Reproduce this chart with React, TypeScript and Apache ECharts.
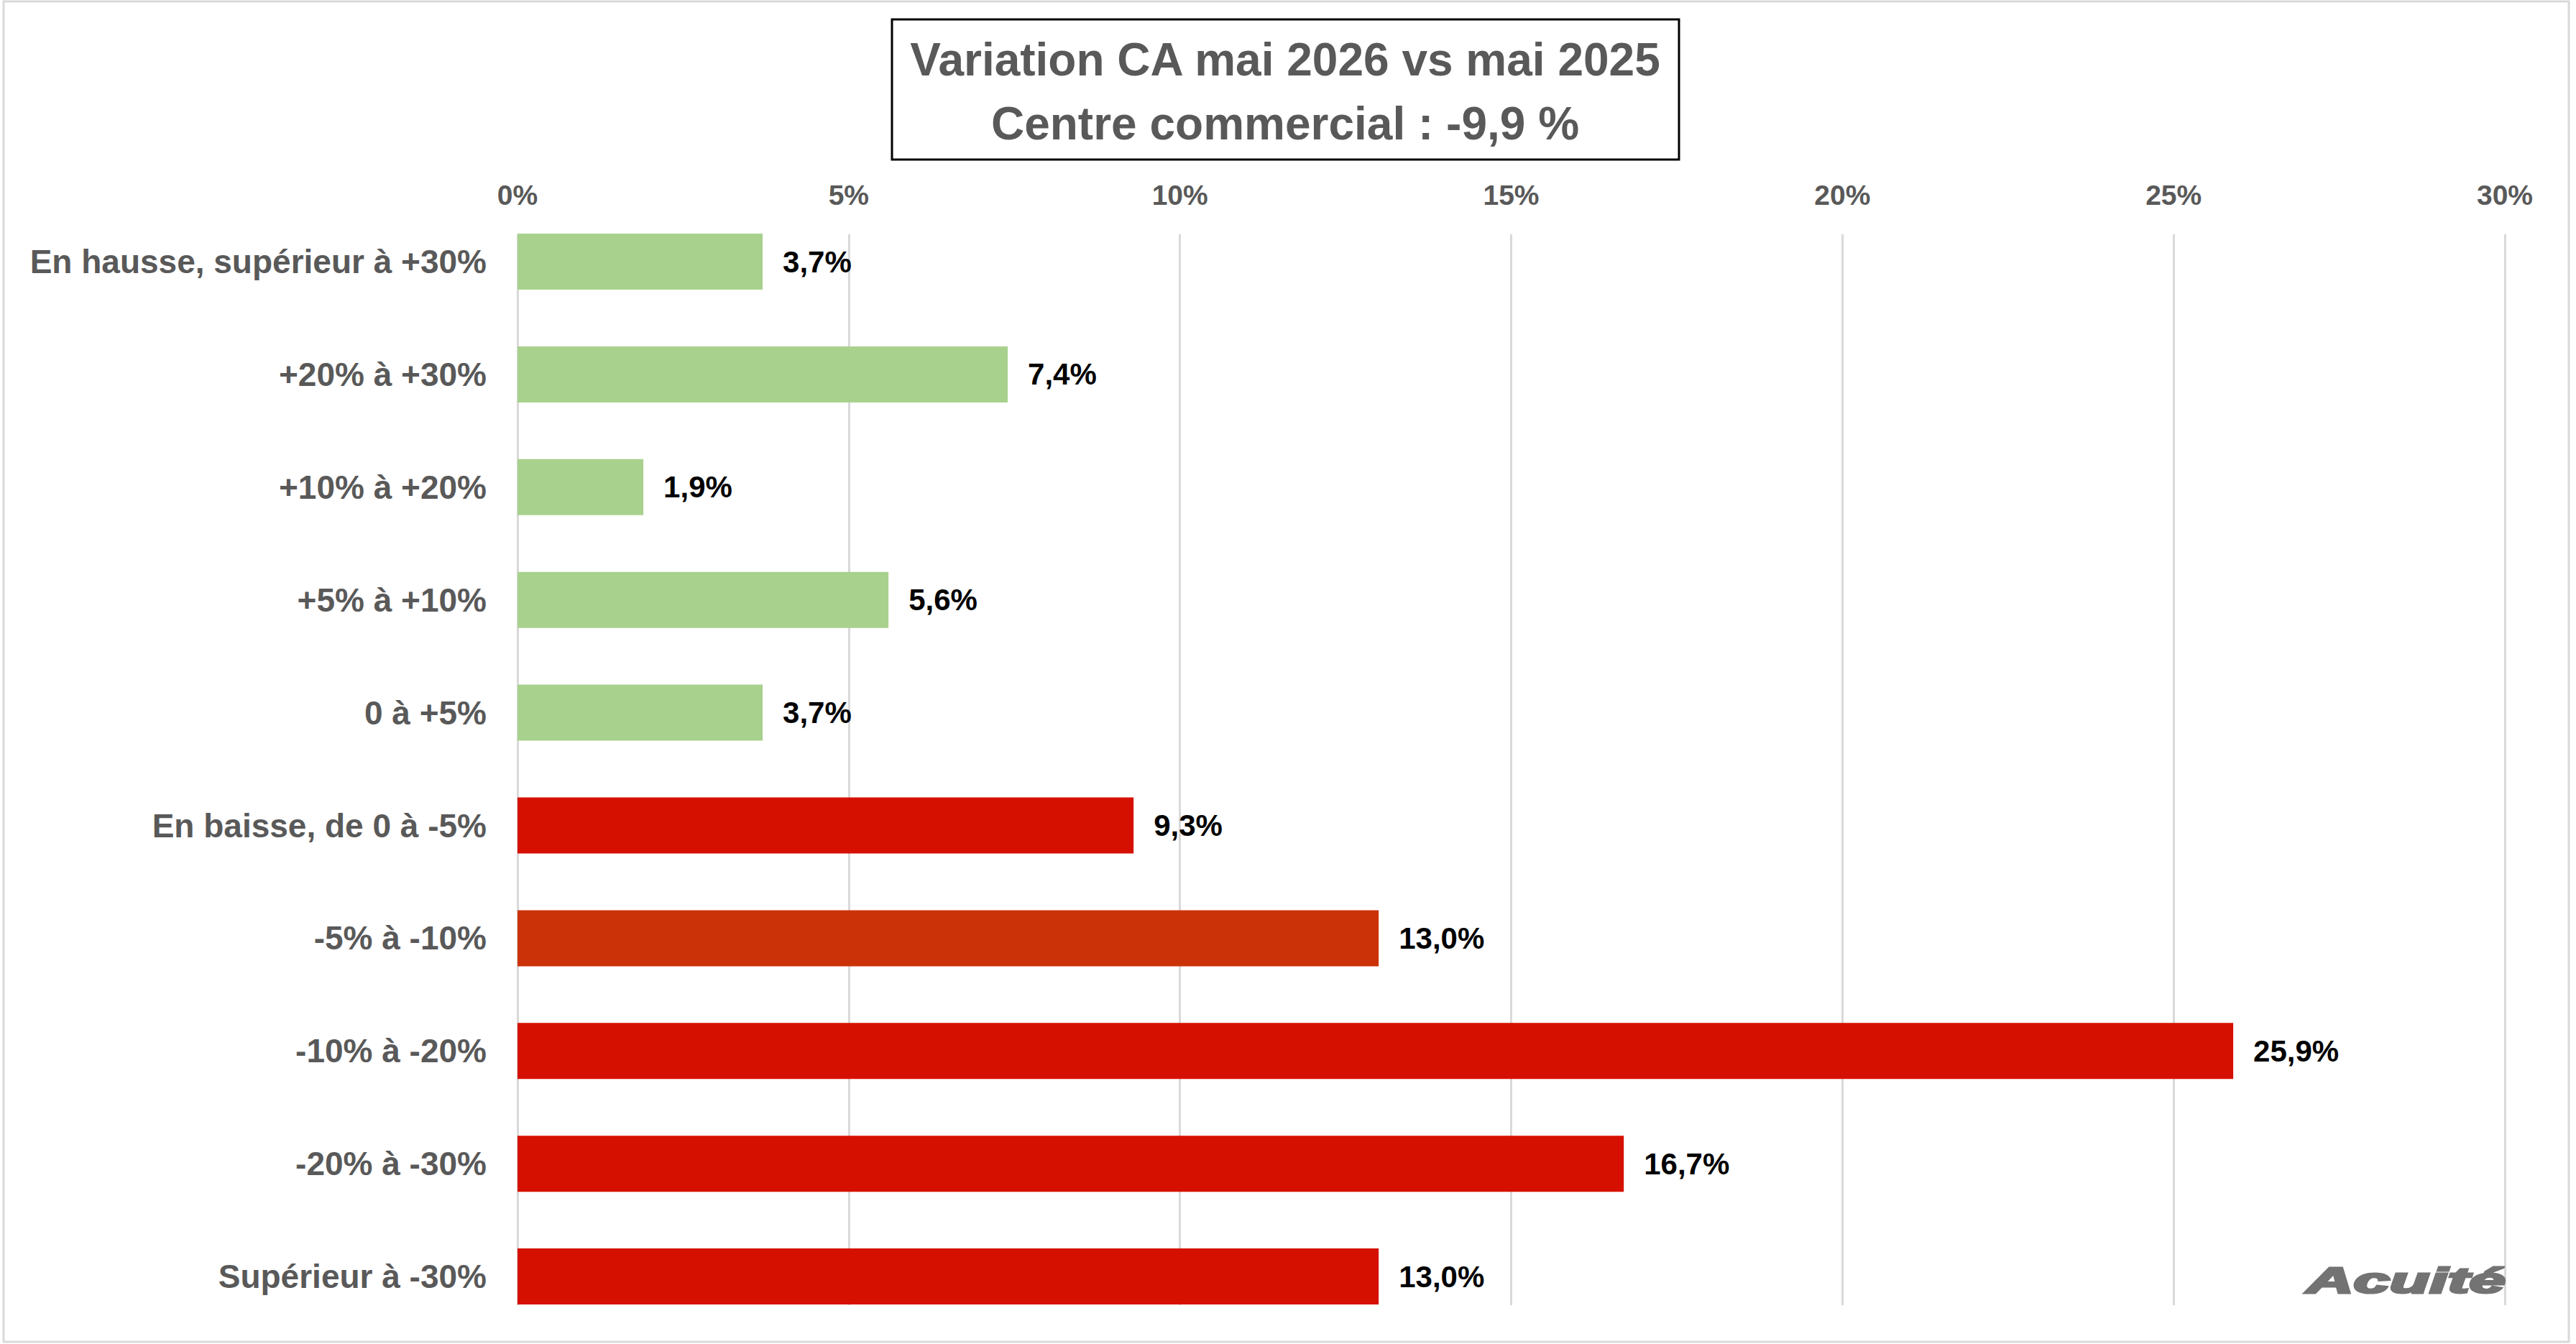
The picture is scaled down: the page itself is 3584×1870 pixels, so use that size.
import React, { useEffect, useRef } from "react";
import * as echarts from "echarts";

const categories = [
  "En hausse, supérieur à +30%",
  "+20% à +30%",
  "+10% à +20%",
  "+5% à +10%",
  "0 à +5%",
  "En baisse, de 0 à -5%",
  "-5% à -10%",
  "-10% à -20%",
  "-20% à -30%",
  "Supérieur à -30%",
];
const values = [3.7, 7.4, 1.9, 5.6, 3.7, 9.3, 13.0, 25.9, 16.7, 13.0];
const barColors = [
  "#A9D18E", "#A9D18E", "#A9D18E", "#A9D18E", "#A9D18E",
  "#D61000", "#CC3208", "#D61000", "#D61000", "#D61000",
];
const axisMin = 0;
const axisMax = 30;
const axisStep = 5;
const titleLines = ["Variation CA mai 2026 vs mai 2025", "Centre commercial : -9,9 %"];
const logoText = "Acuité";

const FONT = "'Liberation Sans', Arial, sans-serif";

export default function App() {
  const ref = useRef<HTMLDivElement>(null);
  useEffect(() => {
    if (!ref.current) return;
    const chart = echarts.init(ref.current, null, { renderer: "svg" });
    const plotLeft = 720;
    const plotRight = 3584 - 3485;
    const band = 156.9;
    const firstCenter = 364;
    chart.setOption({
      animation: false,
      backgroundColor: "#ffffff",
      grid: [
        { left: plotLeft, right: plotRight, top: firstCenter - band / 2, height: band * categories.length },
        { left: plotLeft, right: plotRight, top: 326, height: 1816 - 326 },
      ],
      xAxis: [
        { gridIndex: 0, type: "value", min: axisMin, max: axisMax, interval: axisStep, show: false },
        {
          gridIndex: 1,
          type: "value",
          position: "top",
          min: axisMin,
          max: axisMax,
          interval: axisStep,
          axisLine: { show: false },
          axisTick: { show: false },
          splitLine: { show: true, lineStyle: { color: "#D9D9D9", width: 3 } },
          axisLabel: {
            formatter: "{value}%",
            color: "#595959",
            fontWeight: "bold",
            fontSize: 39,
            fontFamily: FONT,
            verticalAlign: "middle",
            margin: 55,
          },
        },
      ],
      yAxis: [
        {
          gridIndex: 0,
          type: "category",
          data: categories,
          inverse: true,
          axisLine: { show: false },
          axisTick: { show: false },
          splitLine: { show: false },
          axisLabel: {
            color: "#595959",
            fontWeight: "bold",
            fontSize: 46,
            fontFamily: FONT,
            margin: 43,
          },
        },
        { gridIndex: 1, type: "value", show: false, min: 0, max: 1 },
      ],
      series: [
        {
          type: "bar",
          xAxisIndex: 0,
          yAxisIndex: 0,
          barWidth: 78,
          clip: false,
          data: values.map((v, i) => ({ value: v, itemStyle: { color: barColors[i] } })),
          label: {
            show: true,
            position: "right",
            distance: 28,
            color: "#000000",
            fontWeight: "bold",
            fontSize: 42,
            fontFamily: FONT,
            formatter: (p: any) => p.value.toFixed(1).replace(".", ",") + "%",
          },
          z: 3,
        },
      ],
      graphic: [
        {
          type: "rect",
          shape: { x: 5, y: 2, width: 3569, height: 1865 },
          style: { fill: "none", stroke: "#D9D9D9", lineWidth: 3 },
          silent: true,
          z: 0,
        },
        {
          type: "rect",
          shape: { x: 1241, y: 27, width: 1095, height: 195 },
          style: { fill: "#ffffff", stroke: "#000000", lineWidth: 3 },
          z: 10,
        },
        {
          type: "text",
          x: 1788,
          y: 83,
          z: 11,
          style: {
            text: titleLines[0],
            fill: "#595959",
            font: `bold 64px ${FONT}`,
            textAlign: "center",
            textVerticalAlign: "middle",
          },
        },
        {
          type: "text",
          x: 1788,
          y: 172,
          z: 11,
          style: {
            text: titleLines[1],
            fill: "#595959",
            font: `bold 64px ${FONT}`,
            textAlign: "center",
            textVerticalAlign: "middle",
          },
        },
        {
          type: "text",
          x: 3209,
          y: 1782,
          scaleX: 1.85,
          z: 1,
          style: {
            text: logoText,
            fill: "#737373",
            stroke: "#737373",
            lineWidth: 3,
            font: `italic bold 49px ${FONT}`,
            textAlign: "left",
            textVerticalAlign: "middle",
          },
        },
      ],
    });
    return () => chart.dispose();
  }, []);
  return (
    <div
      ref={ref}
      style={{ position: "absolute", left: 0, top: 0, width: 3584, height: 1870 }}
    />
  );
}
